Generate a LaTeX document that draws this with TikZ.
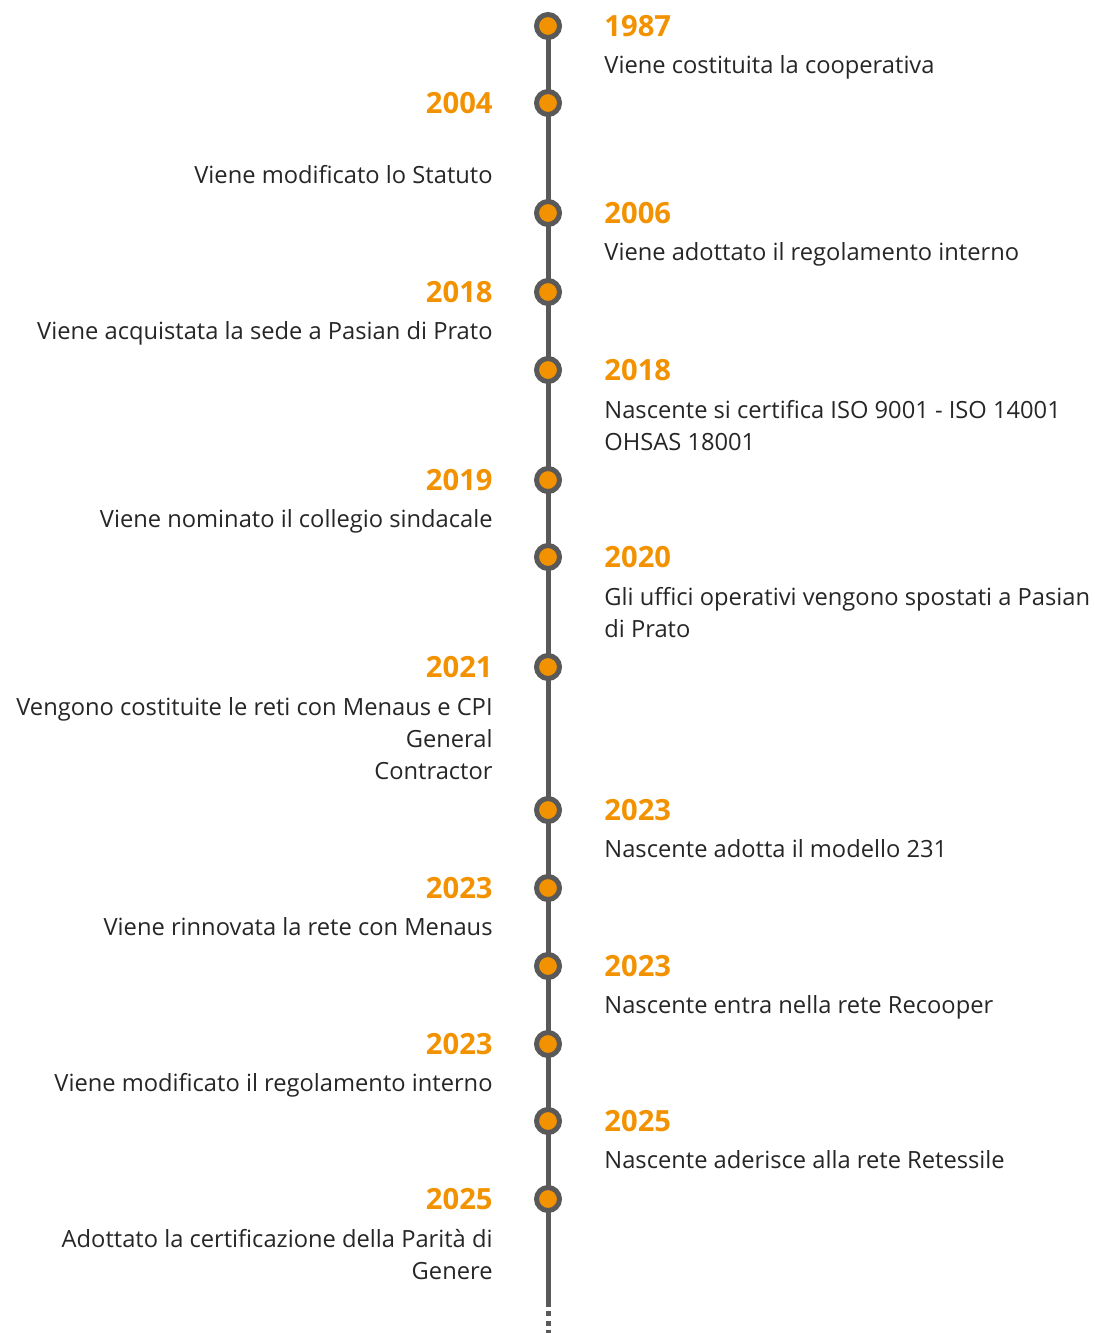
\documentclass[tikz,border=0pt]{standalone}
\usepackage{fontspec}
\setmainfont{Open Sans}
\usetikzlibrary{positioning}

\definecolor{tlorange}{HTML}{F39200}
\definecolor{tlgray}{HTML}{595959}
\definecolor{tltext}{HTML}{262626}

\tikzstyle{dot}=[circle,draw=tlgray,fill=tlorange,line width=2.5pt,minimum size=11.5pt,inner sep=0pt]
\tikzstyle{axis}=[draw=tlgray,line width=2.5pt]
\tikzstyle{year}=[font=\bfseries\fontsize{14.6}{17}\selectfont,text=tlorange,inner sep=0pt]
\tikzstyle{desc}=[font=\fontsize{11.85}{16}\selectfont,text=tltext,inner sep=0pt,execute at begin node=\strut]

\begin{document}
\begin{tikzpicture}[x=0.5pt, y=-0.5pt]
    \useasboundingbox (0,0) rectangle (1094,1333);
    % the vertical axis, solid and then dashed at the bottom
    \coordinate (top) at (548,26);
    \coordinate (end) at (548,1307);
    \coordinate (tail) at (548,1333);
    \path[axis] (top) -- (end);
    \path[axis, dash pattern=on 2.5pt off 2.2pt, dash phase=2.5pt] (end) -- (tail);
    % the dots on the axis
    \foreach \n/\y in {1/26, 2/103, 3/213, 4/292, 5/370, 6/480, 7/557,
                       8/667, 9/810, 10/888, 11/966, 12/1044, 13/1121, 14/1199}
        \node[dot] (d\n) at (548,\y) {};
    % events on the right
    \foreach \n/\yr/\gap/\txt in {1/1987/6.6pt/{Viene costituita la cooperativa},
                                  3/2006/6.6pt/{Viene adottato il regolamento interno},
                                  5/2018/9.6pt/{Nascente si certifica ISO 9001 - ISO 14001\\OHSAS 18001},
                                  7/2020/9.6pt/{Gli uffici operativi vengono spostati a Pasian\\di Prato},
                                  9/2023/6.6pt/{Nascente adotta il modello 231},
                                  11/2023/6.6pt/{Nascente entra nella rete Recooper},
                                  13/2025/6.6pt/{Nascente aderisce alla rete Retessile}}
    {
        \node[year, right=21pt of d\n] (y\n) {\yr};
        \node[desc, align=left, below right=\gap and 0pt of y\n.south west] (t\n) {\txt};
    }
    % events on the left
    \foreach \n/\yr/\gap/\txt in {2/2004/23.1pt/{Viene modificato lo Statuto},
                                  4/2018/6.6pt/{Viene acquistata la sede a Pasian di Prato},
                                  6/2019/6.6pt/{Viene nominato il collegio sindacale},
                                  8/2021/9.6pt/{Vengono costituite le reti con Menaus e CPI\\General\\Contractor},
                                  10/2023/6.6pt/{Viene rinnovata la rete con Menaus},
                                  12/2023/6.6pt/{Viene modificato il regolamento interno},
                                  14/2025/9.6pt/{Adottato la certificazione della Parità di\\Genere}}
    {
        \node[year, left=20.5pt of d\n] (y\n) {\yr};
        \node[desc, align=right, below left=\gap and 0pt of y\n.south east] (t\n) {\txt};
    }
\end{tikzpicture}
\end{document}
